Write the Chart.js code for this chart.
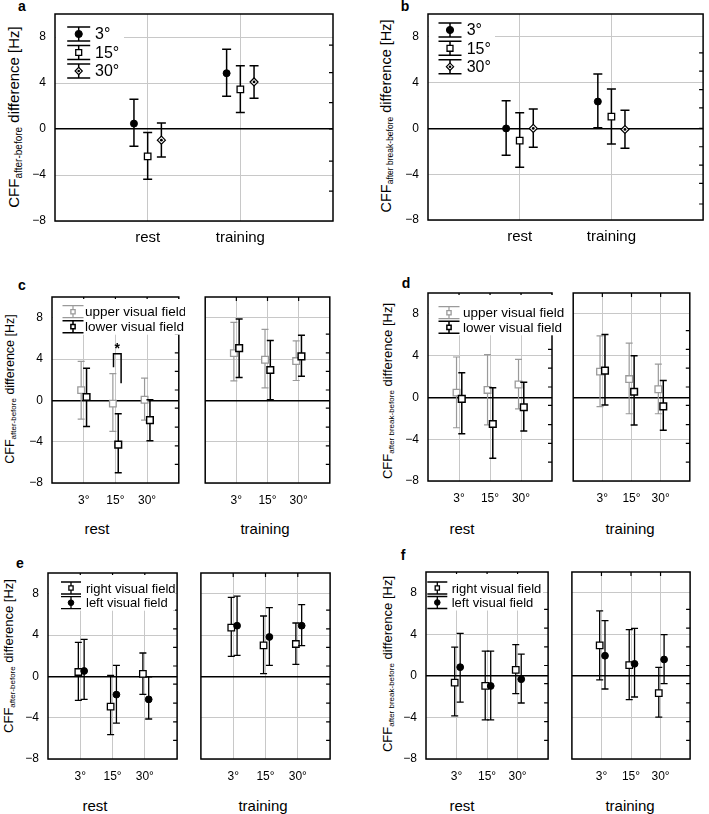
<!DOCTYPE html>
<html>
<head>
<meta charset="utf-8">
<script src="https://cdn.jsdelivr.net/npm/chart.js@4.4.1/dist/chart.umd.min.js"></script>
<style>
body { margin: 0; width: 709px; height: 814px; background: #fff; position: relative; overflow: hidden;
       font-family: "Liberation Sans", Arial, sans-serif; color: #000; }
canvas { position: absolute; }
.letter { position: absolute; font-weight: bold; font-size: 14px; line-height: 1; transform: translate(-50%, -50%); }
.yt { position: absolute; white-space: nowrap; line-height: 1; transform: translate(-50%, -50%) rotate(-90deg); }
.yt sub { line-height: 0; vertical-align: -0.3em; }
.grp { position: absolute; font-size: 15px; line-height: 1; white-space: nowrap; transform: translate(-50%, -50%); }
</style>
</head>
<body>

<div class="letter" style="left:22px;top:6px">a</div>
<div class="letter" style="left:405px;top:6px">b</div>
<div class="letter" style="left:22px;top:285px">c</div>
<div class="letter" style="left:406px;top:283px">d</div>
<div class="letter" style="left:20px;top:563px">e</div>
<div class="letter" style="left:403px;top:555px">f</div>

<div class="yt" style="left:13px;top:117px;font-size:15px">CFF<sub style="font-size:10px">after-before</sub> difference [Hz]</div>
<div class="yt" style="left:386px;top:116px;font-size:14.5px">CFF<sub style="font-size:8.5px">after break-before</sub> difference [Hz]</div>
<div class="yt" style="left:10px;top:389px;font-size:12.5px">CFF<sub style="font-size:8px">after-before</sub> difference [Hz]</div>
<div class="yt" style="left:387px;top:391px;font-size:13px">CFF<sub style="font-size:8px">after break-before</sub> difference [Hz]</div>
<div class="yt" style="left:8px;top:656px;font-size:13px">CFF<sub style="font-size:8px">after-before</sub> difference [Hz]</div>
<div class="yt" style="left:387px;top:664px;font-size:13px">CFF<sub style="font-size:8px">after break-before</sub> difference [Hz]</div>

<div class="grp" style="left:97px;top:528px">rest</div>
<div class="grp" style="left:265px;top:528px">training</div>
<div class="grp" style="left:462px;top:528px">rest</div>
<div class="grp" style="left:630px;top:528px">training</div>
<div class="grp" style="left:95px;top:805px">rest</div>
<div class="grp" style="left:263px;top:805px">training</div>
<div class="grp" style="left:462px;top:805px">rest</div>
<div class="grp" style="left:630px;top:805px">training</div>

<script>
// categories and ticks
const groups = ['rest', 'training'];
const eccs = ['3°', '15°', '30°'];
const yTicks = [-8, -4, 0, 4, 8];
const vertLabels = ['upper visual field', 'lower visual field'];
const horLabels = ['right visual field', 'left visual field'];
const abRightTicksA = [7.3, 4.9, 2.3, 0, -2.8, -5.4];
const abRightTicksB = [6.6, 5, 3.4, 1.8, 0, -1.6, -3.2, -4.8, -6.6];
const cfRightTicks = [6.4, 4.6, 2.8, 1, -0.75, -2.6, -4.4, -6.2];

// each point: [mean, lower end, upper end]
// a, b: order rest, training
const a3 = [[0.47, -1.5, 2.59], [4.85, 2.85, 6.94]];
const a15 = [[-2.38, -4.38, -0.3], [3.44, 1.44, 5.5]];
const a30 = [[-0.97, -2.44, 0.53], [4.09, 2.68, 5.5]];

const b3 = [[0.0, -2.35, 2.41], [2.35, 0.06, 4.76]];
const b15 = [[-1.06, -3.38, 1.38], [1.03, -1.35, 3.44]];
const b30 = [[0.0, -1.65, 1.7], [-0.09, -1.74, 1.59]];

// c-f: order 3°, 15°, 30°
const cUpperRest = [[0.99, -1.82, 3.77], [-0.32, -3.0, 2.59], [0.06, -1.92, 2.14]];
const cLowerRest = [[0.32, -2.53, 3.1], [-4.28, -7.0, -1.31], [-1.92, -3.9, 0.06]];
const cUpperTrain = [[4.57, 1.89, 7.55], [3.93, 1.21, 6.87], [3.8, 1.92, 5.76]];
const cLowerTrain = [[5.05, 2.2, 7.86], [2.94, 0.06, 5.79], [4.25, 2.33, 6.3]];
const sigX = [1.94, 2.18];
const sigY = [3.2, 4.5, 1.65];

const dUpperRest = [[0.46, -2.9, 3.87], [0.72, -2.63, 4.1], [1.24, -1.1, 3.64]];
const dLowerRest = [[-0.13, -3.48, 2.37], [-2.54, -5.82, 0.94], [-0.94, -3.22, 1.46]];
const dUpperTrain = [[2.47, -0.88, 5.89], [1.76, -1.56, 5.2], [0.78, -1.56, 3.19]];
const dLowerTrain = [[2.57, -0.72, 6.02], [0.55, -2.63, 4.0], [-0.85, -3.15, 1.63]];

const eRightRest = [[0.42, -2.32, 3.29], [-2.94, -5.65, 0.1], [0.23, -1.74, 2.26]];
const eLeftRest = [[0.52, -2.23, 3.58], [-1.77, -4.52, 1.06], [-2.23, -4.13, -0.06]];
const eRightTrain = [[4.71, 1.94, 7.65], [3.0, 0.26, 5.84], [3.13, 1.16, 5.16]];
const eLeftTrain = [[4.9, 2.03, 7.77], [3.81, 1.06, 6.65], [4.9, 2.97, 6.94]];

const fRightRest = [[-0.65, -3.84, 2.77], [-0.97, -4.23, 2.39], [0.58, -1.71, 3.0]];
const fLeftRest = [[0.84, -2.52, 4.1], [-0.97, -4.23, 2.39], [-0.32, -2.61, 2.1]];
const fRightTrain = [[2.94, -0.39, 6.26], [1.03, -2.29, 4.45], [-1.65, -3.97, 0.81]];
const fLeftTrain = [[1.94, -1.26, 5.32], [1.16, -2.03, 4.58], [1.58, -0.74, 3.97]];

const FONT = '"Liberation Sans", Arial, sans-serif';
const GRID = '#c8c8c8';
const GRAY = '#9a9a9a';
Chart.defaults.font.family = FONT;
Chart.defaults.color = '#000';

// marker styles
const sCircle = { shape: 'circle', r: 3.5, fill: '#000', color: '#000', bw: 1, lw: 1.5, cap: 4.5 };
const sSquare = { shape: 'rect', r: 4.6, fill: '#fff', color: '#000', bw: 1.3, lw: 1.5, cap: 4.5 };
const sDiamond = { shape: 'rectRot', r: 4, fill: '#fff', color: '#000', bw: 1.2, lw: 1.5, cap: 4.5, dot: true };
const sBlackSq = { shape: 'rect', r: 4.7, fill: '#fff', color: '#000', bw: 1.5, lw: 1.5, cap: 3.5 };
const sGraySq = { shape: 'rect', r: 4.7, fill: '#fff', color: GRAY, bw: 1.3, lw: 1.2, cap: 3.5 };
const sSmallCircle = { shape: 'circle', r: 3.4, fill: '#000', color: '#000', bw: 1, lw: 1.3, cap: 3.5 };
const sSmallSq = { shape: 'rect', r: 4.6, fill: '#fff', color: '#000', bw: 1.3, lw: 1.3, cap: 3.5 };

function minus(v) {
    return v < 0 ? '\u2212' + Math.abs(v) : String(v);
}

function series(pts, base, offset, st) {
    return {
        data: pts.map((p, i) => ({ x: base + i + offset, y: p[0], lo: p[1], hi: p[2] })),
        pointStyle: st.shape,
        pointRadius: st.r,
        pointHoverRadius: st.r,
        pointBackgroundColor: st.fill,
        pointBorderColor: st.color,
        pointBorderWidth: st.bw,
        barColor: st.color,
        barWidth: st.lw,
        cap: st.cap,
        dot: st.dot
    };
}

// error bars are drawn under each dataset's markers
const errorBars = {
    id: 'errorBars',
    beforeDatasetDraw(chart, args) {
        const ds = chart.data.datasets[args.index];
        const { ctx, scales: { x, y } } = chart;
        ctx.save();
        ctx.strokeStyle = ds.barColor;
        ctx.lineWidth = ds.barWidth;
        ds.data.forEach(p => {
            const px = x.getPixelForValue(p.x);
            const t = y.getPixelForValue(p.hi);
            const b = y.getPixelForValue(p.lo);
            ctx.beginPath();
            ctx.moveTo(px, t); ctx.lineTo(px, b);
            ctx.moveTo(px - ds.cap, t); ctx.lineTo(px + ds.cap, t);
            ctx.moveTo(px - ds.cap, b); ctx.lineTo(px + ds.cap, b);
            ctx.stroke();
        });
        ctx.restore();
    },
    afterDatasetDraw(chart, args) {
        const ds = chart.data.datasets[args.index];
        if (!ds.dot) return;
        const { ctx, scales: { x, y } } = chart;
        ctx.save();
        ctx.fillStyle = '#000';
        ds.data.forEach(p => {
            ctx.beginPath();
            ctx.arc(x.getPixelForValue(p.x), y.getPixelForValue(p.y), 1.4, 0, Math.PI * 2);
            ctx.fill();
        });
        ctx.restore();
    }
};

// frame, inner ticks, legend, significance bracket
function makeDecor(cfg) {
    return {
        id: 'decor',
        beforeDatasetsDraw(chart) {
            const { ctx, chartArea: a, scales: { x, y } } = chart;
            ctx.save();
            ctx.strokeStyle = '#000';
            ctx.lineWidth = 1.5;
            ctx.strokeRect(a.left, a.top, a.right - a.left, a.bottom - a.top);
            ctx.lineWidth = 1.2;
            ctx.beginPath();
            (cfg.rightTicks || []).forEach(v => {
                const py = y.getPixelForValue(v);
                ctx.moveTo(a.right, py); ctx.lineTo(a.right - 4, py);
            });
            (cfg.topTicks || []).forEach(v => {
                const px = x.getPixelForValue(v);
                ctx.moveTo(px, a.top); ctx.lineTo(px, a.top + 4);
            });
            ctx.stroke();

            const lg = cfg.legend;
            if (lg) {
                ctx.fillStyle = '#fff';
                ctx.fillRect(a.left + lg.box[0], a.top + lg.box[1], lg.box[2], lg.box[3]);
                lg.items.forEach((it, i) => {
                    const cx = a.left + lg.sym, cy = a.top + lg.rows[i];
                    ctx.strokeStyle = it.color;
                    ctx.lineWidth = it.lw;
                    ctx.beginPath();
                    ctx.moveTo(cx, cy - lg.half); ctx.lineTo(cx, cy + lg.half);
                    ctx.moveTo(cx - lg.cap, cy - lg.half); ctx.lineTo(cx + lg.cap, cy - lg.half);
                    ctx.moveTo(cx - lg.cap, cy + lg.half); ctx.lineTo(cx + lg.cap, cy + lg.half);
                    ctx.stroke();
                    ctx.fillStyle = it.fill;
                    ctx.lineWidth = it.bw;
                    Chart.helpers.drawPoint(ctx, { pointStyle: it.shape, radius: it.lr, borderWidth: it.bw, rotation: 0 }, cx, cy);
                    if (it.dot) {
                        ctx.fillStyle = '#000';
                        ctx.beginPath(); ctx.arc(cx, cy, 1.3, 0, Math.PI * 2); ctx.fill();
                    }
                    ctx.fillStyle = '#000';
                    ctx.font = lg.font + 'px ' + FONT;
                    ctx.textBaseline = 'middle';
                    ctx.fillText(it.label, a.left + lg.text, cy + 1);
                });
            }
            ctx.restore();
        },
        afterDatasetsDraw(chart) {
            if (!cfg.sig) return;
            const { ctx, scales: { x, y } } = chart;
            const x0 = x.getPixelForValue(cfg.sig.x[0]), x1 = x.getPixelForValue(cfg.sig.x[1]);
            const yTop = y.getPixelForValue(cfg.sig.y[1]);
            ctx.save();
            ctx.strokeStyle = '#000';
            ctx.lineWidth = 1.5;
            ctx.beginPath();
            ctx.moveTo(x0, y.getPixelForValue(cfg.sig.y[0]));
            ctx.lineTo(x0, yTop);
            ctx.lineTo(x1, yTop);
            ctx.lineTo(x1, y.getPixelForValue(cfg.sig.y[2]));
            ctx.stroke();
            ctx.fillStyle = '#000';
            ctx.font = 'bold 14px ' + FONT;
            ctx.textAlign = 'center';
            ctx.textBaseline = 'middle';
            ctx.fillText('*', (x0 + x1) / 2, yTop - 5);
            ctx.restore();
        }
    };
}

function makeChart(box, cfg) {
    // top padding larger than the y scale's own label padding, so the plot top is exact
    const padT = 20, padR = box.padR;
    const w = box.r - box.l + box.padL + padR;
    const h = box.b - box.t + padT + box.padB;
    const cv = document.createElement('canvas');
    cv.width = w; cv.height = h;
    cv.style.left = (box.l - box.padL) + 'px';
    cv.style.top = (box.t - padT) + 'px';
    cv.style.width = w + 'px';
    cv.style.height = h + 'px';
    document.body.appendChild(cv);

    return new Chart(cv, {
        type: 'scatter',
        data: { datasets: cfg.datasets },
        options: {
            responsive: false,
            animation: false,
            events: [],
            layout: { padding: { top: padT, right: padR, left: 0, bottom: 0 } },
            plugins: { legend: { display: false }, tooltip: { enabled: false } },
            scales: {
                x: {
                    type: 'linear', min: 0, max: cfg.xMax,
                    afterBuildTicks: s => { s.ticks = cfg.catPos.map(v => ({ value: v })); },
                    afterFit: s => { s.height = box.padB; },
                    ticks: { callback: (v, i) => cfg.catLabels[i], font: { size: cfg.xFont }, padding: cfg.xPad, maxRotation: 0, autoSkip: false },
                    grid: { color: GRID, drawTicks: false },
                    border: { display: false }
                },
                y: {
                    min: -8, max: 10,
                    afterBuildTicks: s => { s.ticks = yTicks.map(v => ({ value: v })); },
                    afterFit: s => { s.width = box.padL; },
                    ticks: { display: cfg.yLabels, callback: v => minus(v), font: { size: 12 }, padding: 9 },
                    grid: {
                        color: c => (c.tick && c.tick.value === 0 ? '#000' : GRID),
                        lineWidth: c => (c.tick && c.tick.value === 0 ? 1.5 : 1),
                        drawTicks: false
                    },
                    border: { display: false }
                }
            }
        },
        plugins: [errorBars, makeDecor(cfg)]
    });
}

// legend item descriptions
function item(label, st, lr) {
    return { label: label, color: st.color, fill: st.fill, shape: st.shape, lw: st.lw, bw: st.bw, lr: lr, dot: st.dot };
}

// ---- a ----
makeChart({ l: 55, t: 14, r: 333, b: 221, padL: 55, padR: 6, padB: 40 }, {
    xMax: 3, catPos: [1, 2], catLabels: groups, xFont: 15, xPad: 8, yLabels: true,
    rightTicks: abRightTicksA,
    datasets: [
        series(a3, 1, -0.148, sCircle),
        series(a15, 1, 0, sSquare),
        series(a30, 1, 0.148, sDiamond)
    ],
    legend: {
        sym: 23.7, text: 40, rows: [20, 38.5, 57], half: 7, cap: 11.5, font: 16, box: [1, 2, 68, 66],
        items: [item(eccs[0], sCircle, 3.6), item(eccs[1], sSquare, 4.2), item(eccs[2], sDiamond, 3.6)]
    }
});

// ---- b ----
makeChart({ l: 428, t: 14, r: 708, b: 220, padL: 40, padR: 1, padB: 40 }, {
    xMax: 3, catPos: [1, 2], catLabels: groups, xFont: 15, xPad: 8, yLabels: true,
    rightTicks: abRightTicksB,
    datasets: [
        series(b3, 1, -0.148, sCircle),
        series(b15, 1, 0, sSquare),
        series(b30, 1, 0.148, sDiamond)
    ],
    legend: {
        sym: 22, text: 38.7, rows: [16, 34.3, 52.7], half: 7, cap: 11.5, font: 16, box: [1, 2, 66, 62],
        items: [item(eccs[0], sCircle, 3.6), item(eccs[1], sSquare, 4.2), item(eccs[2], sDiamond, 3.6)]
    }
});

// ---- c-f: two subplots each ----
const vertLegend = (sym, text, rows, w) => ({
    sym: sym, text: text, rows: rows, half: 6, cap: 10.5, font: 13.5, box: [1, 2, w, rows[1] + 6],
    items: [item(vertLabels[0], sGraySq, 3), item(vertLabels[1], sBlackSq, 3)]
});
const horLegend = (sym, text, rows, w) => ({
    sym: sym, text: text, rows: rows, half: 6, cap: 10, font: 13, box: [1, 2, w, rows[1] + 6],
    items: [item(horLabels[0], sSmallSq, 3), item(horLabels[1], sSmallCircle, 2.8)]
});

function pairPanel(left, right, restA, restB, trainA, trainB, stA, stB, offA, offB, legend, sig) {
    const common = { xMax: 4, catPos: [1, 2, 3], catLabels: eccs, xFont: 12, xPad: 10, rightTicks: cfRightTicks, topTicks: [1, 2, 3] };
    makeChart(left, Object.assign({}, common, {
        yLabels: true,
        datasets: [series(restB, 1, offB, stB), series(restA, 1, offA, stA)],
        legend: legend, sig: sig
    }));
    makeChart(right, Object.assign({}, common, {
        yLabels: false,
        datasets: [series(trainB, 1, offB, stB), series(trainA, 1, offA, stA)]
    }));
}

pairPanel({ l: 52, t: 297, r: 182, b: 483, padL: 40, padR: 3, padB: 30 },
          { l: 201, t: 297, r: 332, b: 483, padL: 2, padR: 4, padB: 30 },
          cUpperRest, cLowerRest, cUpperTrain, cLowerTrain, sGraySq, sBlackSq, -0.08, 0.09,
          vertLegend(21, 33, [14.7, 29.7], 132), { x: sigX, y: sigY });

pairPanel({ l: 428, t: 293, r: 552, b: 481, padL: 40, padR: 12, padB: 30 },
          { l: 569, t: 293, r: 692, b: 481, padL: 2, padR: 4, padB: 30 },
          dUpperRest, dLowerRest, dUpperTrain, dLowerTrain, sGraySq, sBlackSq, -0.08, 0.09,
          vertLegend(21, 35, [19.7, 34.3], 134), null);

pairPanel({ l: 48, t: 573, r: 180, b: 759, padL: 40, padR: 3, padB: 30 },
          { l: 197, t: 573, r: 332, b: 759, padL: 2, padR: 4, padB: 30 },
          eRightRest, eLeftRest, eRightTrain, eLeftTrain, sSmallSq, sSmallCircle, -0.06, 0.12,
          horLegend(23, 38, [15, 29.7], 126), null);

pairPanel({ l: 426, t: 572, r: 551, b: 759, padL: 40, padR: 3, padB: 30 },
          { l: 568, t: 572, r: 692, b: 759, padL: 2, padR: 4, padB: 30 },
          fRightRest, fLeftRest, fRightTrain, fLeftTrain, sSmallSq, sSmallCircle, -0.06, 0.12,
          horLegend(11.3, 25.7, [16, 30.5], 116), null);
</script>
</body>
</html>
